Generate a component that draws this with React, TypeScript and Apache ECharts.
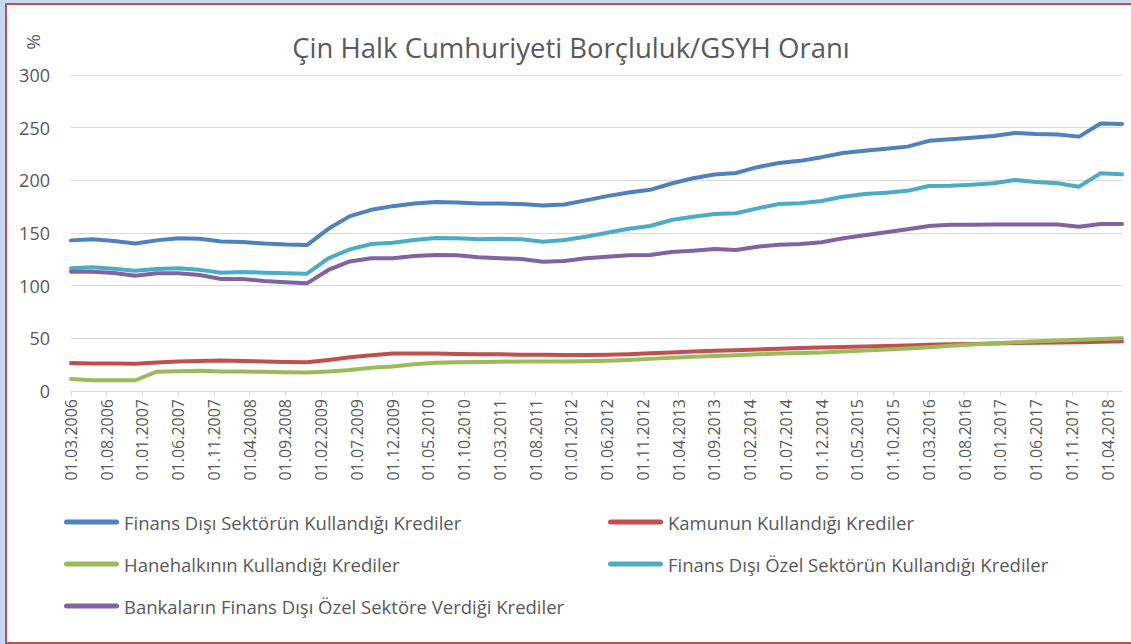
import React, { useEffect, useRef } from "react";
import * as echarts from "echarts";

// Quarterly observation dates (x positions on a monthly axis)
const quarterDates: string[] = [
  "01.03.2006","01.06.2006","01.09.2006","01.12.2006",
  "01.03.2007","01.06.2007","01.09.2007","01.12.2007",
  "01.03.2008","01.06.2008","01.09.2008","01.12.2008",
  "01.03.2009","01.06.2009","01.09.2009","01.12.2009",
  "01.03.2010","01.06.2010","01.09.2010","01.12.2010",
  "01.03.2011","01.06.2011","01.09.2011","01.12.2011",
  "01.03.2012","01.06.2012","01.09.2012","01.12.2012",
  "01.03.2013","01.06.2013","01.09.2013","01.12.2013",
  "01.03.2014","01.06.2014","01.09.2014","01.12.2014",
  "01.03.2015","01.06.2015","01.09.2015","01.12.2015",
  "01.03.2016","01.06.2016","01.09.2016","01.12.2016",
  "01.03.2017","01.06.2017","01.09.2017","01.12.2017",
  "01.03.2018","01.06.2018",
];

// Tick labels shown on the x axis
const tickLabels: string[] = [
  "01.03.2006","01.08.2006","01.01.2007","01.06.2007","01.11.2007",
  "01.04.2008","01.09.2008","01.02.2009","01.07.2009","01.12.2009",
  "01.05.2010","01.10.2010","01.03.2011","01.08.2011","01.01.2012",
  "01.06.2012","01.11.2012","01.04.2013","01.09.2013","01.02.2014",
  "01.07.2014","01.12.2014","01.05.2015","01.10.2015","01.03.2016",
  "01.08.2016","01.01.2017","01.06.2017","01.11.2017","01.04.2018",
];

const seriesNames: string[] = [
  "Finans Dışı Sektörün Kullandığı Krediler",
  "Kamunun Kullandığı Krediler",
  "Hanehalkının Kullandığı Krediler",
  "Finans Dışı Özel Sektörün Kullandığı Krediler",
  "Bankaların Finans Dışı Özel Sektöre Verdiği Krediler",
];

const finansDisiSektor: number[] = [
  143, 144, 142.5, 140, 143, 145, 144.5, 142, 141.5, 140,
  139, 138.5, 154, 166, 172, 175.5, 178, 179.5, 179, 178,
  178, 177.5, 176, 177, 181, 185, 188.5, 191, 197, 202,
  205.5, 207, 212.5, 216.5, 218.5, 222, 226, 228, 230, 232,
  237.5, 239, 240.5, 242, 245, 244, 243.5, 241.5, 254, 253.5,
];

const kamu: number[] = [
  26.5, 26.2, 26, 25.8, 27, 28, 28.5, 29, 28.5, 28,
  27.5, 27.2, 29.5, 32, 34, 35.5, 35.5, 35.5, 35.2, 35,
  34.8, 34.5, 34.3, 34.2, 34.2, 34.5, 35, 35.8, 36.5, 37.5,
  38.2, 38.8, 39.5, 40.2, 40.8, 41.3, 41.8, 42.3, 42.8, 43.3,
  43.8, 44.3, 44.7, 45.1, 45.5, 45.8, 46.1, 46.4, 46.8, 47.2,
];

const hanehalki: number[] = [
  11.3, 10.3, 10.2, 10.2, 18.3, 18.8, 19.2, 18.6, 18.4, 18.2,
  17.8, 17.5, 18.5, 20, 22, 23.2, 25.3, 26.8, 27.2, 27.6,
  27.8, 28, 28, 28, 28.2, 28.8, 29.5, 30.5, 31.5, 32.5,
  33.3, 34, 34.8, 35.5, 36, 36.5, 37.5, 38.5, 39.3, 40.3,
  41.5, 43, 44.2, 45.2, 46.3, 47.2, 48, 48.6, 49.3, 50,
];

const finansDisiOzel: number[] = [
  116.5, 117.4, 116, 114.2, 115.8, 116.5, 115, 112.3, 113, 112.3,
  111.7, 111.4, 126, 134.5, 139.6, 140.8, 143.4, 145.3, 145, 144,
  144.6, 144, 141.8, 143.4, 146.5, 150.3, 154, 156.6, 162.3, 165.5,
  168, 168.7, 173.4, 177.5, 178.2, 180.4, 184.5, 187, 188.3, 190,
  194.6, 194.9, 195.9, 197.2, 200.3, 198.4, 197.2, 194, 206.7, 205.7,
];

const bankalar: number[] = [
  113.3, 113.3, 112, 109.5, 111.7, 111.7, 110.1, 106.3, 106.3, 104.4,
  103.2, 102.2, 114.9, 123, 126, 126, 128.2, 129, 128.8, 126.9,
  126, 125.3, 122.8, 123.4, 126, 127.5, 128.8, 129.1, 132, 133.2,
  134.8, 133.9, 137, 138.9, 139.6, 141.2, 145, 147.8, 150.7, 153.5,
  156.6, 157.9, 157.9, 158, 158, 158, 158, 156, 158.5, 158.5,
];

const colors: string[] = ["#4f81bd", "#c0504d", "#9bbb59", "#4bacc6", "#8064a2"];

const TEXT = "#595959";
const FONT = "'Open Sans', sans-serif";

function buildMonths(first: string, last: string): string[] {
  const [, fm, fy] = first.split(".").map(Number);
  const [, lm, ly] = last.split(".").map(Number);
  const out: string[] = [];
  let y = fy, m = fm;
  while (y < ly || (y === ly && m <= lm)) {
    out.push(`01.${String(m).padStart(2, "0")}.${y}`);
    m++;
    if (m > 12) { m = 1; y++; }
  }
  return out;
}

export default function App() {
  const ref = useRef<HTMLDivElement>(null);

  useEffect(() => {
    if (!ref.current) return;
    const chart = echarts.init(ref.current, null, { renderer: "svg" });
    const months = buildMonths(quarterDates[0], quarterDates[quarterDates.length - 1]);
    const tickSet = new Set(tickLabels);
    const allValues = [finansDisiSektor, kamu, hanehalki, finansDisiOzel, bankalar];
    const legendIcon = "path://M2.5,0 L52.5,0 A2.5,2.5 0 0 1 52.5,5 L2.5,5 A2.5,2.5 0 0 1 2.5,0 Z";
    const legendText = { fontSize: 18.5, color: TEXT, fontFamily: FONT, lineHeight: 20 };

    chart.setOption({
      animation: false,
      backgroundColor: "transparent",
      textStyle: { fontFamily: FONT },
      grid: { left: 71, right: 9, top: 75, bottom: 253, containLabel: false },
      graphic: [
        {
          type: "text",
          x: 571,
          y: 47,
          style: {
            text: "Çin Halk Cumhuriyeti Borçluluk/GSYH Oranı",
            fontSize: 27.5,
            fontFamily: FONT,
            fill: TEXT,
            align: "center",
            verticalAlign: "middle",
          },
        },
        {
          type: "text",
          x: 33,
          y: 42,
          rotation: Math.PI / 2,
          style: {
            text: "%",
            fontSize: 19,
            fontFamily: FONT,
            fill: TEXT,
            align: "center",
            verticalAlign: "middle",
          },
        },
      ],
      legend: [
        {
          data: [seriesNames[0], seriesNames[2], seriesNames[4]],
          orient: "vertical",
          left: 64,
          top: 512,
          padding: 0,
          itemWidth: 55,
          itemHeight: 5,
          itemGap: 22,
          icon: legendIcon,
          textStyle: legendText,
        },
        {
          data: [seriesNames[1], seriesNames[3]],
          orient: "vertical",
          left: 608,
          top: 512,
          padding: 0,
          itemWidth: 55,
          itemHeight: 5,
          itemGap: 22,
          icon: legendIcon,
          textStyle: legendText,
        },
      ],
      xAxis: {
        type: "category",
        data: months,
        boundaryGap: false,
        axisLine: { lineStyle: { color: "#d9d9d9", width: 1 } },
        axisTick: {
          show: true,
          length: 5,
          lineStyle: { color: "#d9d9d9" },
          interval: (_i: number, v: string) => tickSet.has(v),
        },
        axisLabel: {
          interval: (_i: number, v: string) => tickSet.has(v),
          rotate: 90,
          margin: 8,
          fontSize: 16,
          color: TEXT,
          fontFamily: FONT,
        },
        splitLine: { show: false },
      },
      yAxis: {
        type: "value",
        min: 0,
        max: 300,
        interval: 50,
        axisLine: { show: false },
        axisTick: { show: false },
        axisLabel: { fontSize: 18, color: TEXT, margin: 21, fontFamily: FONT },
        splitLine: { lineStyle: { color: "#d9d9d9", width: 1 } },
      },
      series: seriesNames.map((name, k) => ({
        name,
        type: "line",
        symbol: "none",
        color: colors[k],
        lineStyle: { width: 4, color: colors[k], cap: "round", join: "round" },
        data: quarterDates.map((d, i) => [months.indexOf(d), allValues[k][i]]),
      })),
    });

    return () => chart.dispose();
  }, []);

  return (
    <div style={{ position: "fixed", left: 0, top: 0, width: 1131, height: 644, background: "#c6d9f1", overflow: "hidden" }}>
      <div
        style={{
          position: "absolute",
          left: 5,
          top: 3,
          width: 1140,
          height: 641,
          boxSizing: "border-box",
          border: "2px solid #c0504d",
          background: "#ffffff",
        }}
      />
      <div ref={ref} style={{ position: "absolute", left: 0, top: 0, width: 1131, height: 644 }} />
    </div>
  );
}
